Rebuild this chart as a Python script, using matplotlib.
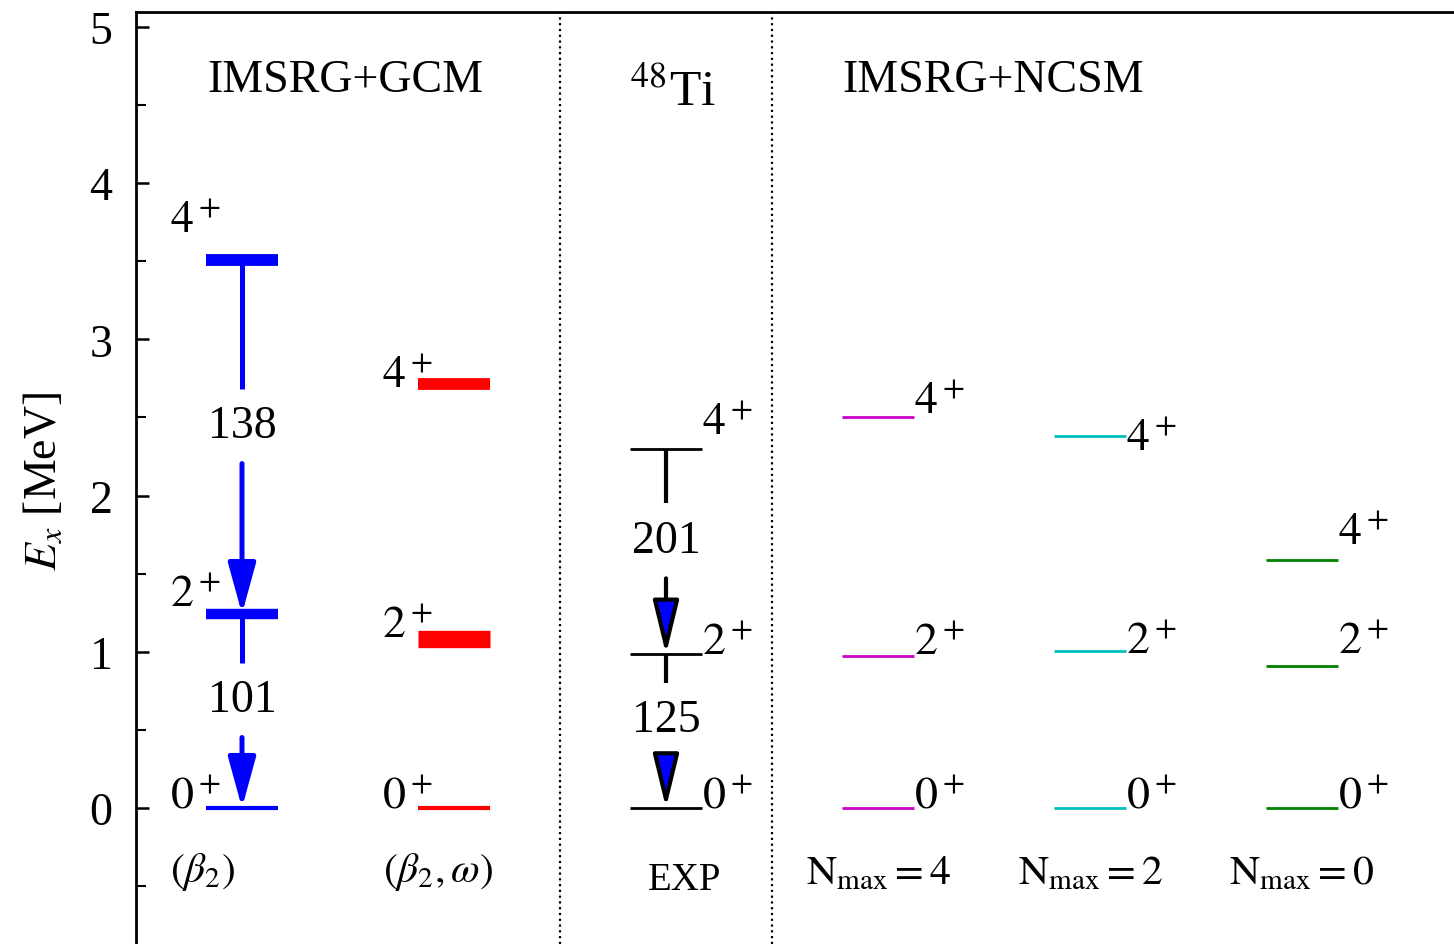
"""
Level scheme of 48Ti: IMSRG+GCM vs experiment vs IMSRG+NCSM.
"""
import matplotlib
matplotlib.use("Agg")
import matplotlib.pyplot as plt

plt.rcParams['font.family'] = ['Liberation Serif', 'DejaVu Serif']
plt.rcParams['mathtext.fontset'] = 'stix'

# --- data (excitation energies in MeV, order 0+, 2+, 4+) ---
spins = ['0', '2', '4']
gcm_b2 = [0.0, 1.242, 3.508]
gcm_b2w = [0.0, 1.082, 2.714]
exp_levels = [0.0, 0.984, 2.296]
ncsm_n4 = [0.0, 0.970, 2.503]
ncsm_n2 = [0.0, 1.008, 2.384]
ncsm_n0 = [0.0, 0.906, 1.586]
be2_gcm = [101, 138]   # 2->0, 4->2
be2_exp = [125, 201]
column_names = [r'$(\beta_2)$', r'$(\beta_2,\omega)$', 'EXP',
                r'$\mathrm{N}_{\mathrm{max}}=4$', r'$\mathrm{N}_{\mathrm{max}}=2$',
                r'$\mathrm{N}_{\mathrm{max}}=0$']

# --- layout ---
FS = 33
HW = 0.17
col_x = [1, 2, 3, 4, 5, 6]

fig = plt.figure(figsize=(14.54, 9.45), dpi=100)
ax = fig.add_axes([136 / 1454, 0.0, 1318 / 1454, 932 / 945])
ax.set_xlim(0.5, 6.717)
ax.set_ylim(-0.871, 5.096)

for s in ['right', 'bottom']:
    ax.spines[s].set_visible(False)
for s in ['left', 'top']:
    ax.spines[s].set_linewidth(2.0)

ax.set_xticks([])
ax.set_yticks([0, 1, 2, 3, 4, 5])
ax.set_yticks([-0.5, 0.5, 1.5, 2.5, 3.5, 4.5], minor=True)
ax.tick_params(axis='y', which='major', direction='in', length=9, width=1.8,
               labelsize=FS, pad=17)
ax.tick_params(axis='y', which='minor', direction='in', length=7, width=1.5)
ax.set_ylabel(r'$E_x$ [MeV]', fontsize=FS)
ax.yaxis.set_label_coords(-0.053, 0.497)

for xv in [2.5, 3.5]:
    ax.axvline(xv, color='black', lw=1.6, ls=(0, (1, 1.6)))


def level(x, e, color, lw):
    ax.plot([x - HW, x + HW], [e, e], color=color, lw=lw, solid_capstyle='butt')


def transition(x, e_up, e_low, val, color, headfc, lw, hl, hw):
    mid = (e_up + e_low) / 2 + 0.07
    ax.plot([x, x], [e_up, mid + 0.24], color=color, lw=lw, solid_capstyle='butt')
    ax.annotate('', xy=(x, e_low), xytext=(x, mid - 0.24),
                arrowprops=dict(arrowstyle=f'-|>,head_length={hl},head_width={hw}',
                                mutation_scale=1, lw=lw, color=color, fc=headfc,
                                ec=color, shrinkA=0, shrinkB=0))
    ax.text(x, mid, str(val), fontsize=FS, ha='center', va='center')


def spin_label(x, y, j, ha='left'):
    ax.text(x, y, f'${j}^+$', fontsize=FS, ha=ha, va='baseline')


# IMSRG+GCM (beta2)
x = col_x[0]
for e, j, th, ly in zip(gcm_b2, spins, [3.0, 7.5, 8.5], [0.0, 1.29, 3.69]):
    level(x, e, 'blue', th)
    spin_label(x - 0.34, ly, j)
transition(x, gcm_b2[2], gcm_b2[1], be2_gcm[1], 'blue', 'blue', 3.6, 31, 8.5)
transition(x, gcm_b2[1], gcm_b2[0], be2_gcm[0], 'blue', 'blue', 3.6, 31, 8.5)

# IMSRG+GCM (beta2, omega)
x = col_x[1]
for e, j, th, ly in zip(gcm_b2w, spins, [3.0, 12.5, 8.5], [0.0, 1.095, 2.695]):
    level(x, e, 'red', th)
    spin_label(x - 0.34, ly, j)

# experiment
x = col_x[2]
for e, j, ly in zip(exp_levels, spins, [0.0, 0.986, 2.394]):
    level(x, e, 'black', 2.0)
    spin_label(x + HW, ly, j)
transition(x, exp_levels[2], exp_levels[1], be2_exp[1], 'black', 'blue', 3.0, 33, 8)
transition(x, exp_levels[1], exp_levels[0], be2_exp[0], 'black', 'blue', 3.0, 33, 8)

# IMSRG+NCSM
ncsm_sets = [ncsm_n4, ncsm_n2, ncsm_n0]
ncsm_colors = ['#c800c8', '#00c0c0', '#008000']
ncsm_label_y = [[0.0, 0.986, 2.53], [0.0, 0.99, 2.29], [0.0, 0.99, 1.69]]
for k, (levels, c, lys) in enumerate(zip(ncsm_sets, ncsm_colors, ncsm_label_y)):
    x = col_x[3 + k]
    for e, j, ly in zip(levels, spins, lys):
        level(x, e, c, 2.0)
        spin_label(x + HW, ly, j)

# column captions
cap_x = [0.66, 1.665, 2.915, 3.66, 4.66, 5.656]
cap_y = [-0.47, -0.47, -0.52, -0.48, -0.48, -0.48]
cap_fs = [FS - 3, FS - 3, FS - 5, FS - 3, FS - 3, FS - 3]
for name, cx, cy, fs in zip(column_names, cap_x, cap_y, cap_fs):
    ax.text(cx, cy, name, fontsize=fs, ha='left', va='baseline')

ax.text(0.835, 4.59, 'IMSRG+GCM', fontsize=FS, ha='left', va='baseline')
ax.text(2.83, 4.50, r'$^{48}$Ti', fontsize=FS + 4, ha='left', va='baseline')
ax.text(3.83, 4.59, 'IMSRG+NCSM', fontsize=FS, ha='left', va='baseline')

fig.savefig('out.png', dpi=100)
